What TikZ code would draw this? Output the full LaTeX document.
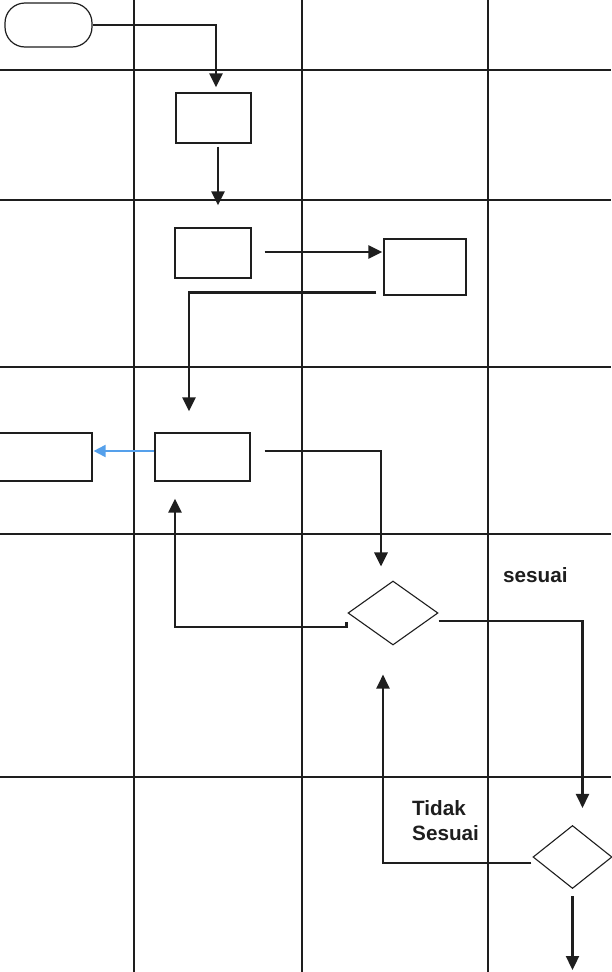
\documentclass[tikz,border=0pt]{standalone}
\usepackage{fontspec}
\setmainfont{Liberation Sans}
\usetikzlibrary{arrows.meta,shapes.geometric,calc}
\definecolor{ink}{RGB}{30,30,30}
\definecolor{lineblue}{RGB}{85,160,235}
\begin{document}
\begin{tikzpicture}[x=1pt,y=-1pt,
  gridline/.style={draw=ink,line width=1.1pt},
  procbox/.style={draw=ink,fill=white,line width=1.2pt,rectangle,inner sep=0pt},
  termbox/.style={draw=ink,fill=white,line width=1.2pt,rectangle,rounded corners=20pt,inner sep=0pt},
  decbox/.style={draw=ink,fill=white,line width=1.1pt,diamond,inner sep=0pt,aspect=1.4},
  conn/.style={draw=ink,line width=2.8pt,-{Triangle[length=14pt,width=13pt]}},
  bluearrow/.style={draw=lineblue,line width=2pt,-{Triangle[length=12pt,width=12pt]}},
  lbl/.style={font=\bfseries\fontsize{20.7}{25}\selectfont,text=ink,inner sep=0pt}]
\useasboundingbox (0,0) rectangle (611,972);
% grid
\foreach \gx in {134,302,488} \draw[gridline] (\gx,0) -- (\gx,972);
\foreach \gy in {70,200,367,534,777} \draw[gridline] (0,\gy) -- (611,\gy);
% nodes
\node[termbox,minimum width=87pt,minimum height=44pt] (term) at (48.5,25) {};
\node[procbox,minimum width=75pt,minimum height=50pt] (b1) at (213.5,118) {};
\node[procbox,minimum width=76pt,minimum height=50pt] (b2) at (213,253) {};
\node[procbox,minimum width=82pt,minimum height=56pt] (b3) at (425,267) {};
\node[procbox,minimum width=95pt,minimum height=48pt] (b4) at (202.5,457) {};
\node[procbox,minimum width=97pt,minimum height=48pt] (b5) at (43.5,457) {};
\node[decbox,minimum width=90pt,minimum height=64pt] (d1) at (393,613) {};
\node[decbox,minimum width=79pt,minimum height=63pt] (d2) at (572.5,857) {};
\coordinate (fin) at (572.5,970);
% connectors
\draw[conn] (term.east) -| ([xshift=2.5pt,yshift=5pt]b1.north);
\draw[conn] ([xshift=4.5pt,yshift=-3pt]b1.south) -- ([xshift=5pt,yshift=22pt]b2.north);
\draw[conn] ([xshift=13pt,yshift=1pt]b2.east) -- ($(b3.west |- b2.east)+(-1,-1)$);
\draw[conn] ([xshift=-7pt,yshift=3pt]b3.south west) -| ([xshift=-13.5pt,yshift=21pt]b4.north);
\draw[bluearrow] ([yshift=6pt]b4.west) -- ([xshift=1pt,yshift=6pt]b5.east);
\draw[conn] ([xshift=14pt,yshift=6pt]b4.east) -| ([xshift=-12pt,yshift=14pt]d1.north);
\draw[conn] ([xshift=-1pt,yshift=-9pt]d1.west) -- ++(0,5) -| ([xshift=-27.5pt,yshift=-17pt]b4.south);
\draw[conn,line width=2.3pt] ([yshift=-8pt]d1.east) -| ([xshift=10pt,yshift=17pt]d2.north);
\draw[conn,line width=2.3pt] ([xshift=-1pt,yshift=-6pt]d2.west) -| ([xshift=-10pt,yshift=-29pt]d1.south);
\draw[conn,line width=2.3pt] ([yshift=-7pt]d2.south) -- (fin);
% labels
\node[lbl,anchor=base west] (lsesuai) at (503,582) {sesuai};
\node[lbl,anchor=north west,align=left] (ltidak) at (412,800) {Tidak\\Sesuai};
\end{tikzpicture}
\end{document}
